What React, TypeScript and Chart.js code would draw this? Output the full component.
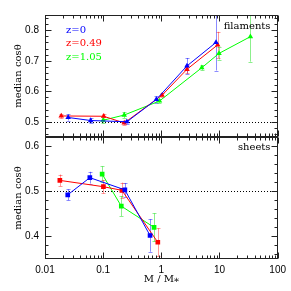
import React, { useEffect, useRef } from 'react';
import { Chart, registerables } from 'chart.js';
Chart.register(...registerables);

// ---------- data ----------
// Filaments panel (top)
const massTopZ0 = [0.025, 0.061, 0.256, 0.82, 2.76, 8.7];
const cosTopZ0 = [0.514, 0.504, 0.5, 0.573, 0.683, 0.76];
const errTopZ0 = [0.01, 0.008, 0.006, 0.01, 0.026, 0.092];

const massTopZ049 = [0.019, 0.102, 0.23, 1.03, 2.76, 9.3];
const cosTopZ049 = [0.519, 0.518, 0.496, 0.587, 0.672, 0.752];
const errTopZ049 = [0.008, 0.008, 0.007, 0.006, 0.013, 0.043];

const massTopZ105 = [0.1, 0.23, 0.93, 4.96, 9.8, 34];
const cosTopZ105 = [0.505, 0.522, 0.568, 0.677, 0.724, 0.779];
const errTopZ105 = [0.01, 0.01, 0.006, 0.008, 0.02, 0.082];

// Sheets panel (bottom)
const massBotZ0 = [0.0246, 0.059, 0.236, 0.64];
const cosBotZ0 = [0.492, 0.53, 0.503, 0.402];
const errBotZ0 = [0.012, 0.013, 0.015, 0.036];

const massBotZ049 = [0.018, 0.101, 0.21, 0.87];
const cosBotZ049 = [0.524, 0.51, 0.502, 0.387];
const errBotZ049 = [0.013, 0.015, 0.017, 0.031];

const massBotZ105 = [0.096, 0.205, 0.75];
const cosBotZ105 = [0.538, 0.467, 0.42];
const errBotZ105 = [0.017, 0.022, 0.031];

const seriesLabels = ['z=0', 'z=0.49', 'z=1.05'];
const panelLabels = ['filaments', 'sheets'];
const xTickValues = [0.01, 0.1, 1, 10, 100];
const yTopTicks = [0.5, 0.6, 0.7, 0.8];
const yBotTicks = [0.4, 0.5, 0.6];
const refLine = 0.5;

const COLORS = ['#0000ff', '#ff0000', '#00ff00'];
const ERR_COLORS = ['rgba(0,0,255,0.45)', 'rgba(255,0,0,0.4)', 'rgba(0,220,0,0.45)'];

const SERIF = '"DejaVu Serif", serif';
const SANS = '"Liberation Sans", Arial, sans-serif';

function pts(xs: number[], ys: number[]) {
  return xs.map((x, i) => ({ x, y: ys[i] }));
}

function makeDs(label: string, xs: number[], ys: number[], errs: number[], ci: number, axis: string, style: string) {
  return {
    label,
    data: pts(xs, ys),
    errs,
    yAxisID: axis,
    borderColor: COLORS[ci],
    backgroundColor: COLORS[ci],
    borderWidth: 1,
    pointStyle: style,
    pointRadius: style === 'rect' ? 3.3 : 3.2,
    pointBorderWidth: 0,
    errColor: ERR_COLORS[ci],
  } as any;
}

const framePlugin = {
  id: 'frameTicks',
  beforeDatasetsDraw(chart: any) {
    const ctx = chart.ctx;
    const { left, right } = chart.chartArea;
    ['yTop', 'yBot'].forEach((id) => {
      const s = chart.scales[id];
      const py = Math.round(s.getPixelForValue(refLine)) + 0.5;
      ctx.save();
      ctx.strokeStyle = '#000';
      ctx.lineWidth = 1;
      ctx.setLineDash([1, 2]);
      ctx.beginPath();
      ctx.moveTo(left, py);
      ctx.lineTo(right, py);
      ctx.stroke();
      ctx.restore();
    });
    // error bars
    chart.data.datasets.forEach((ds: any, i: number) => {
      const meta = chart.getDatasetMeta(i);
      const s = chart.scales[ds.yAxisID];
      ctx.save();
      ctx.beginPath();
      ctx.rect(left, s.top, right - left, s.bottom - s.top);
      ctx.clip();
      ctx.strokeStyle = ds.errColor;
      ctx.lineWidth = 1;
      meta.data.forEach((el: any, j: number) => {
        const v = ds.data[j].y;
        const e = ds.errs[j];
        const x = Math.round(el.x) + 0.5;
        const y1 = s.getPixelForValue(v + e);
        const y2 = s.getPixelForValue(v - e);
        ctx.beginPath();
        ctx.moveTo(x, y1);
        ctx.lineTo(x, y2);
        ctx.moveTo(x - 2, Math.round(y1) + 0.5);
        ctx.lineTo(x + 2, Math.round(y1) + 0.5);
        ctx.moveTo(x - 2, Math.round(y2) + 0.5);
        ctx.lineTo(x + 2, Math.round(y2) + 0.5);
        ctx.stroke();
      });
      ctx.restore();
    });
  },
  afterDraw(chart: any) {
    const ctx = chart.ctx;
    const { left, right } = chart.chartArea;
    const xs = chart.scales.x;
    const L = Math.round(left) + 0.5;
    const R = Math.round(right) - 0.5;
    ctx.save();
    ctx.strokeStyle = '#222';
    ctx.lineWidth = 1;
    ['yTop', 'yBot'].forEach((id) => {
      const s = chart.scales[id];
      const T = Math.round(s.top) + 0.5;
      const B = Math.round(s.bottom) - 0.5;
      ctx.strokeRect(L, T, R - L, B - T);
      ctx.beginPath();
      for (let e = -2; e <= 2; e++) {
        for (let m = 1; m <= 9; m++) {
          const v = m * Math.pow(10, e);
          if (v > 100.0001) continue;
          const px = Math.round(xs.getPixelForValue(v)) + 0.5;
          const len = m === 1 ? 6 : 3;
          ctx.moveTo(px, B);
          ctx.lineTo(px, B - len);
          ctx.moveTo(px, T);
          ctx.lineTo(px, T + len);
        }
      }
      const k0 = Math.ceil(s.min * 50 - 1e-6);
      const k1 = Math.floor(s.max * 50 + 1e-6);
      for (let k = k0; k <= k1; k++) {
        const py = Math.round(s.getPixelForValue(k / 50)) + 0.5;
        const len = k % 5 === 0 ? 6 : 3;
        ctx.moveTo(L, py);
        ctx.lineTo(L + len, py);
        ctx.moveTo(R, py);
        ctx.lineTo(R - len, py);
      }
      ctx.stroke();
    });
    ctx.restore();

    // text annotations
    ctx.save();
    ctx.font = '10px ' + SERIF;
    ctx.textBaseline = 'middle';
    ctx.textAlign = 'left';
    const ly = [30, 43.5, 57];
    seriesLabels.forEach((t, i) => {
      ctx.fillStyle = COLORS[i];
      ctx.fillText(t, 66, ly[i]);
    });
    ctx.fillStyle = '#000';
    ctx.textAlign = 'right';
    ctx.fillText(panelLabels[0], R - 7, chart.scales.yTop.top + 11);
    ctx.fillText(panelLabels[1], R - 7, chart.scales.yBot.top + 10);
    ctx.restore();
  },
};

function yAxis(min: number, max: number, tickVals: number[]) {
  return {
    type: 'linear',
    position: 'left',
    stack: 'panels',
    stackWeight: 1,
    min,
    max,
    grid: { display: false, drawTicks: false },
    border: { display: false },
    afterBuildTicks: (s: any) => {
      s.ticks = tickVals.map((v) => ({ value: v }));
    },
    ticks: {
      padding: 6,
      font: { family: SANS, size: 10 },
      color: '#000',
      callback: (v: any) => Number(v).toFixed(1),
    },
    title: {
      display: true,
      text: 'median cos\u03B8',
      font: { family: SERIF, size: 10 },
      color: '#000',
      padding: { top: 12, bottom: 0 },
    },
    afterFit: (s: any) => { s.width = 45; },
  } as any;
}

export default function App() {
  const ref = useRef<HTMLCanvasElement>(null);
  useEffect(() => {
    document.body.style.margin = '0';
    Chart.defaults.color = '#000';
    const chart = new Chart(ref.current as HTMLCanvasElement, {
      type: 'line',
      data: {
        datasets: [
          makeDs(seriesLabels[0], massTopZ0, cosTopZ0, errTopZ0, 0, 'yTop', 'triangle'),
          makeDs(seriesLabels[1], massTopZ049, cosTopZ049, errTopZ049, 1, 'yTop', 'triangle'),
          makeDs(seriesLabels[2], massTopZ105, cosTopZ105, errTopZ105, 2, 'yTop', 'triangle'),
          makeDs(seriesLabels[0], massBotZ0, cosBotZ0, errBotZ0, 0, 'yBot', 'rect'),
          makeDs(seriesLabels[1], massBotZ049, cosBotZ049, errBotZ049, 1, 'yBot', 'rect'),
          makeDs(seriesLabels[2], massBotZ105, cosBotZ105, errBotZ105, 2, 'yBot', 'rect'),
        ],
      },
      options: {
        responsive: false,
        animation: false,
        events: [],
        layout: { padding: { top: 15, right: 11, left: 0, bottom: 0 } },
        plugins: { legend: { display: false }, tooltip: { enabled: false } },
        scales: {
          x: {
            type: 'logarithmic',
            position: 'bottom',
            min: 0.01,
            max: 100,
            grid: { display: false, drawTicks: false },
            border: { display: false },
            afterBuildTicks: (s: any) => {
              s.ticks = xTickValues.map((v) => ({ value: v }));
            },
            ticks: {
              autoSkip: false,
              maxRotation: 0,
              padding: 5,
              font: { family: SANS, size: 10 },
              color: '#000',
              callback: (v: any) => String(Number(v)),
            },
            title: {
              display: true,
              text: 'M / M\u204E',
              font: { family: SERIF, size: 10 },
              color: '#000',
              padding: { top: 0, bottom: 6 },
            },
            afterFit: (s: any) => { s.height = 32; },
          } as any,
          yBot: yAxis(0.35, 0.62, yBotTicks),
          yTop: yAxis(0.45, 0.85, yTopTicks),
        },
      },
      plugins: [framePlugin],
    } as any);
    return () => chart.destroy();
  }, []);
  return (
    <div style={{ position: 'absolute', left: 0, top: 0, width: 291, height: 291 }}>
      <canvas ref={ref} width={291} height={291} style={{ width: 291, height: 291 }} />
    </div>
  );
}
